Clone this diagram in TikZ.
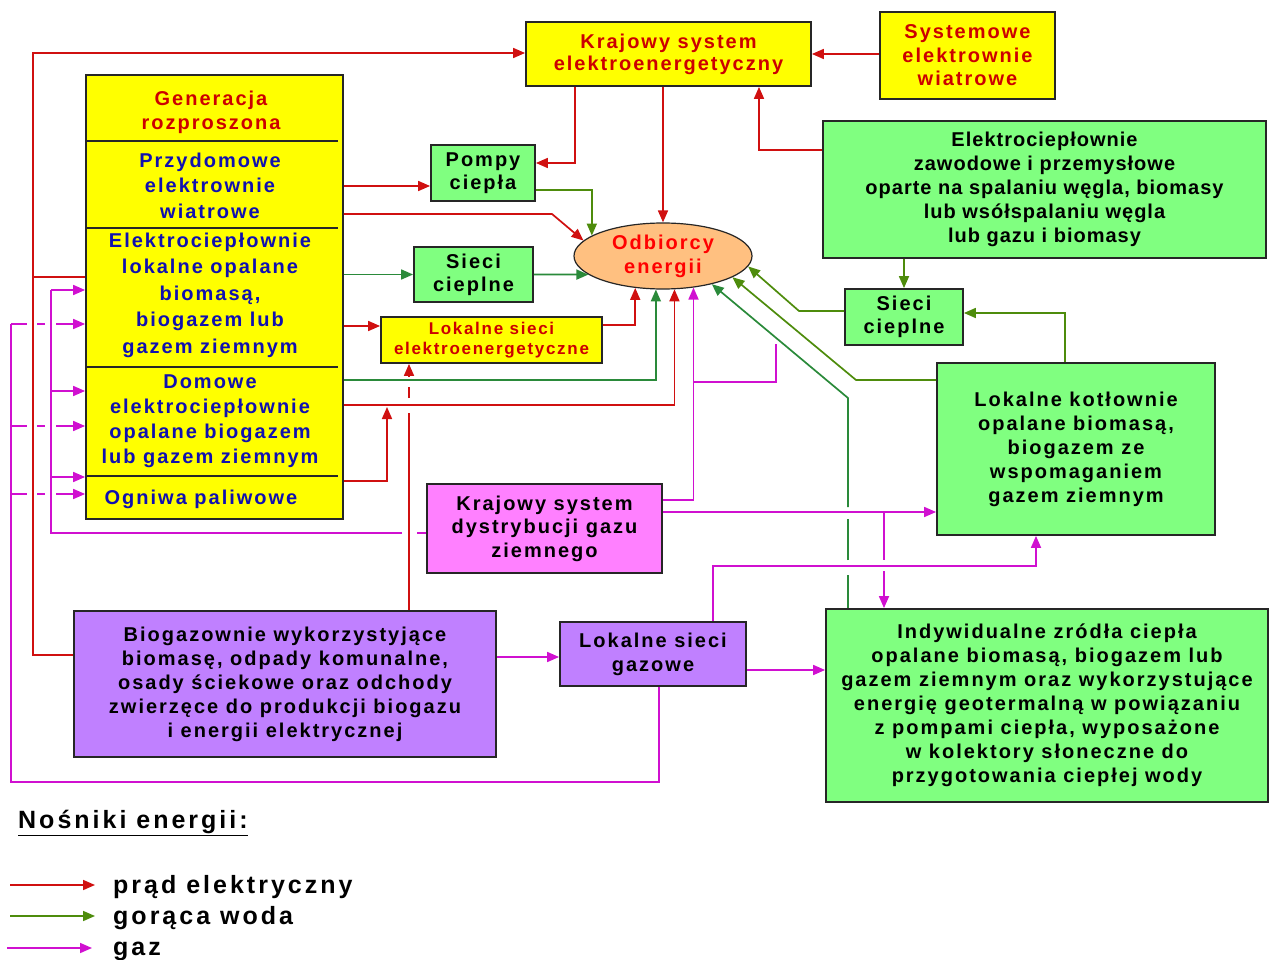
\documentclass[tikz,border=0pt]{standalone}
\usepackage{fontspec}
\setmainfont{Liberation Sans}[LetterSpace=10]
\newfontfamily\tightfont{Liberation Sans}[LetterSpace=5]
\newfontfamily\legfont{Liberation Sans}[LetterSpace=12]
\definecolor{yel}{HTML}{FFFF00}
\definecolor{grn}{HTML}{80FF80}
\definecolor{pnk}{HTML}{FF80FF}
\definecolor{vio}{HTML}{C080FF}
\definecolor{ofill}{HTML}{FFC080}
\definecolor{txtred}{HTML}{CC0000}
\definecolor{brightred}{HTML}{FF0000}
\definecolor{txtblue}{HTML}{1010B0}
\definecolor{linered}{HTML}{D01010}
\definecolor{hwolive}{HTML}{4E8C0C}
\definecolor{hwgreen}{HTML}{2A8A3A}
\definecolor{gasmag}{HTML}{D010D0}
\usetikzlibrary{arrows.meta,shapes.geometric}

\begin{document}
\begin{tikzpicture}[x=1pt,y=-1pt,>={Triangle[length=12pt,width=10pt]},
  box/.style={draw=black!85,line width=1.8pt,inner sep=0pt,align=center,
    font=\fontsize{20}{24}\selectfont\bfseries},
  gtxt/.style={align=center,inner sep=0pt,text=txtblue},
  leg/.style={anchor=base west,inner sep=0pt,font=\legfont\fontsize{25}{28}\selectfont\bfseries},
  elec/.style={draw=linered,line width=1.7pt},
  hw/.style={draw=hwolive,line width=1.7pt},
  hwd/.style={draw=hwgreen,line width=1.7pt},
  gas/.style={draw=gasmag,line width=1.7pt}]
  \fill[white] (0,0) rectangle (1270,960);
  \useasboundingbox (0,0) rectangle (1270,960);

  \node[box,fill=yel,text=txtred,minimum width=285pt,minimum height=64pt,
    font=\fontsize{20}{22}\selectfont\bfseries] (kse) at (668.5,54) {Krajowy system\\elektroenergetyczny};
  \node[box,fill=yel,text=txtred,minimum width=175pt,minimum height=87pt,
    font=\fontsize{20}{23.5}\selectfont\bfseries] (sew) at (967.5,55.5) {Systemowe\\elektrownie\\wiatrowe};
  \node[box,fill=yel,minimum width=257pt,minimum height=444pt] (gr) at (214.5,297) {};
  \foreach \y in {141,228,367,476}
    \draw[black!85,line width=1.5pt] (gr.west |- 0,\y) -- (338,\y);
  \node[gtxt,text=txtred,font=\fontsize{20}{24}\selectfont\bfseries] (grt) at (211,112) {Generacja\\rozproszona};
  \node[gtxt,font=\fontsize{20}{25.5}\selectfont\bfseries] (gr1) at (210,185.5) {Przydomowe\\elektrownie\\wiatrowe};
  \node[gtxt,font=\fontsize{20}{26.5}\selectfont\bfseries] (gr2) at (210,295) {Elektrociepłownie\\lokalne opalane\\biomasą,\\biogazem lub\\gazem ziemnym};
  \node[gtxt,font=\fontsize{20}{25}\selectfont\bfseries] (gr3) at (210,421) {Domowe\\elektrociepłownie\\opalane biogazem\\lub gazem ziemnym};
  \node[gtxt,font=\fontsize{20}{24}\selectfont\bfseries] (gr4) at (201,499) {Ogniwa paliwowe};

  \node[box,fill=grn,minimum width=104pt,minimum height=56pt,
    font=\fontsize{20}{23}\selectfont\bfseries] (pc) at (483,173) {Pompy\\ciepła};
  \node[box,fill=grn,minimum width=119pt,minimum height=55pt,
    font=\fontsize{20}{23}\selectfont\bfseries] (sc1) at (473.5,274.5) {Sieci\\cieplne};
  \node[ellipse,draw=black!85,line width=1.2pt,fill=ofill,inner sep=0pt,minimum width=178pt,
    minimum height=66pt,align=center,text=brightred,font=\fontsize{20}{24}\selectfont\bfseries] (oe) at (663,256) {Odbiorcy\\energii};
  \node[box,fill=yel,text=txtred,minimum width=221pt,minimum height=46pt,
    font=\fontsize{17}{20}\selectfont\bfseries] (lse) at (491.5,340) {Lokalne sieci\\elektroenergetyczne};
  \node[box,fill=grn,minimum width=443pt,minimum height=137pt,
    font=\tightfont\fontsize{20}{24}\selectfont\bfseries] (ez) at (1044.5,189.5) {Elektrociepłownie\\zawodowe i przemysłowe\\oparte na spalaniu węgla, biomasy\\lub wsółspalaniu węgla\\lub gazu i biomasy};
  \node[box,fill=grn,minimum width=118pt,minimum height=56pt,
    font=\fontsize{20}{23}\selectfont\bfseries] (sc2) at (904,317) {Sieci\\cieplne};
  \node[box,fill=grn,minimum width=278pt,minimum height=172pt] (lk) at (1076,449) {Lokalne kotłownie\\opalane biomasą,\\biogazem ze\\wspomaganiem\\gazem ziemnym};
  \node[box,fill=pnk,minimum width=235pt,minimum height=89pt,
    font=\fontsize{20}{23.5}\selectfont\bfseries] (ksg) at (544.5,528.5) {Krajowy system\\dystrybucji gazu\\ziemnego};
  \node[box,fill=vio,minimum width=422pt,minimum height=146pt] (bg) at (285,684) {Biogazownie wykorzystyjące\\biomasę, odpady komunalne,\\osady ściekowe oraz odchody\\zwierzęce do produkcji biogazu\\i energii elektrycznej};
  \node[box,fill=vio,minimum width=186pt,minimum height=64pt] (lsg) at (653,654) {Lokalne sieci\\gazowe};
  \node[box,fill=grn,minimum width=442pt,minimum height=193pt] (iz) at (1047,705.5) {Indywidualne zródła ciepła\\opalane biomasą, biogazem lub\\gazem ziemnym oraz wykorzystujące\\energię geotermalną w powiązaniu\\z pompami ciepła, wyposażone\\w kolektory słoneczne do\\przygotowania ciepłej wody};

  \draw[elec,->] (sew.west |- kse.west) -- (kse.east);
  \draw[elec,->] (bg.west |- 0,655) -- (33,655) -- (33,53) -- (kse.west |- 0,53);
  \draw[elec] (gr.west |- 0,277) -- (33,277);
  \draw[elec,->] (kse.south -| 575,0) |- (pc.east |- 0,163);
  \draw[elec,->] (kse.south -| oe.north) -- (oe.north);
  \draw[elec,->] (ez.west |- 0,150) -| (kse.south -| 759,0);
  \draw[elec,->] (gr.east |- 0,186) -- (pc.west |- 0,186);
  \draw[elec,->] (gr.east |- 0,214) -- (552,214) -- (oe.169);
  \draw[elec,->] (gr.east |- 0,326) -- (lse.west |- 0,326);
  \draw[elec,->] (lse.east |- 0,325) -| (oe.229);
  \draw[elec,->] (gr.east |- 0,405) -| (oe.289);
  \coordinate (rj) at (387,407);
  \draw[elec,->] (gr.east |- 0,481) -| (rj);
  \draw[elec] (bg.north -| 409,0) -- (409,413);
  \draw[elec] (409,398) -- (409,387);
  \draw[elec,->] (409,377) -- (lse.south -| 409,0);

  \draw[hw,->] (pc.east |- 0,190) -| (oe.164);
  \draw[hwd,->] (sc1.east) -- (oe.194);
  \draw[hwd,->] (gr.east |- sc1.west) -- (sc1.west);
  \draw[hwd,->] (gr.east |- 0,380) -| (oe.258);
  \draw[hw,->] (ez.south -| sc2.north) -- (sc2.north);
  \draw[hw,->] (sc2.west |- 0,311) -- (799,311) -- (oe.353);
  \draw[hw,->] (lk.west |- 0,380) -- (856,380) -- (oe.343);
  \draw[hwd] (iz.north -| 848,0) -- (848,575);
  \draw[hwd] (848,560) -- (848,519);
  \draw[hwd,->] (848,507) -- (848,398) -- (oe.330);
  \draw[hw,->] (lk.north -| 1065,0) |- (sc2.east |- 0,313);

  \draw[gas,->] (ksg.east |- 0,500) -| (oe.314);
  \draw[gas] (693,382) -| (776,344);
  \draw[gas,->] (ksg.east |- 0,512) -- (lk.west |- 0,512);
  \draw[gas] (884,512) -- (884,560);
  \draw[gas,->] (884,571) -- (iz.north -| 884,0);
  \draw[gas,->] (lsg.north -| 713,0) |- (1036,566) -- (lk.south -| 1036,0);
  \draw[gas,->] (lsg.east |- 0,670) -- (iz.west |- 0,670);
  \draw[gas,->] (bg.east |- 0,657) -- (lsg.west |- 0,657);
  \draw[gas] (lsg.south -| 659,0) |- (11,782) -- (11,324);
  \foreach \y in {324,426,494}{
    \draw[gas] (11,\y) -- (27,\y);
    \draw[gas] (37,\y) -- (45,\y);
    \draw[gas,->] (56,\y) -- (gr.west |- 0,\y);
  }
  \draw[gas] (ksg.west |- 0,533) -- (417,533);
  \draw[gas] (402,533) -- (51,533) -- (51,290);
  \foreach \y in {290,391,477}
    \draw[gas,->] (51,\y) -- (gr.west |- 0,\y);

  \node[leg] (leghead) at (18,828) {\underline{Nośniki energii:}};
  \node[leg] (lg1) at (113,893) {prąd elektryczny};
  \node[leg] (lg2) at (113,924) {gorąca woda};
  \node[leg] (lg3) at (113,955) {gaz};
  \coordinate (l1a) at (10,885); \coordinate (l1b) at (95,885);
  \coordinate (l2a) at (10,916); \coordinate (l2b) at (95,916);
  \coordinate (l3a) at (7,948);  \coordinate (l3b) at (92,948);
  \draw[elec,->] (l1a) -- (l1b);
  \draw[hw,->] (l2a) -- (l2b);
  \draw[gas,->] (l3a) -- (l3b);
\end{tikzpicture}
\end{document}
